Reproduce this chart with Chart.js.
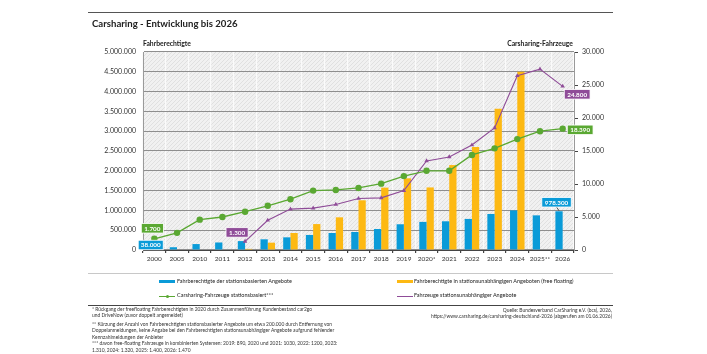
<!DOCTYPE html>
<html>
<head>
<meta charset="utf-8">
<script src="https://cdn.jsdelivr.net/npm/chart.js@4.4.1/dist/chart.umd.min.js"></script>
<style>
  body { margin: 0; background: #fff; font-family: Lato, sans-serif; color: #222; }
  #wrap { position: relative; width: 707px; height: 354px; overflow: hidden; }
  #chart { position: absolute; left: 0; top: 0; }
  .t { position: absolute; white-space: nowrap; line-height: 1; transform: translateY(-50%); }
  .hr { position: absolute; left: 88px; width: 525px; }
  .fn { position: absolute; left: 92px; font-size: 4.9px; line-height: 1; white-space: nowrap; color: #333; transform: translateY(-50%); }
  .src { position: absolute; right: 95px; font-size: 4.9px; line-height: 1; white-space: nowrap; color: #333; text-align: right; transform: translateY(-50%); }
  .lg { position: absolute; font-size: 5.5px; line-height: 1; white-space: nowrap; transform: translateY(-50%); }
  .sw { position: absolute; }
</style>
</head>
<body>
<div id="wrap">
  <canvas id="chart" width="707" height="354"></canvas>

  <div class="hr" style="top:12px;border-top:1.5px solid #555"></div>
  <div class="t" style="left:92px;top:23.5px;font-size:9.6px;font-weight:700">Carsharing - Entwicklung bis 2026</div>
  <div class="t" style="left:143px;top:43px;font-size:6.8px;font-weight:700">Fahrberechtigte</div>
  <div class="t" style="right:134px;top:43px;font-size:6.8px;font-weight:700">Carsharing-Fahrzeuge</div>

  <div class="hr" style="top:272.5px;border-top:1px solid #c8c8c8"></div>
  <div class="sw" style="left:159px;top:279.5px;width:16px;height:3.5px;background:#0a9bd8"></div>
  <div class="lg" style="left:177px;top:281.5px">Fahrberechtigte der stationsbasierten Angebote</div>
  <div class="sw" style="left:397px;top:279.5px;width:16px;height:3.5px;background:#fdb913"></div>
  <div class="lg" style="left:414px;top:281.5px">Fahrberechtigte in stationsunabhängigen Angeboten (free floating)</div>
  <div class="sw" style="left:159px;top:295.5px;width:16px;height:1.2px;background:#5aa832"></div>
  <div class="sw" style="left:165.5px;top:294.6px;width:3px;height:3px;border-radius:50%;background:#5aa832"></div>
  <div class="lg" style="left:177px;top:296px">Carsharing-Fahrzeuge stationsbasiert***</div>
  <div class="sw" style="left:397px;top:295.5px;width:16px;height:1.1px;background:#8f4c98"></div>
  <div class="lg" style="left:414px;top:296px">Fahrzeuge stationsunabhängiger Angebote</div>

  <div class="hr" style="top:304.5px;border-top:1.5px solid #444"></div>
  <div class="fn" style="top:308.5px">* Rückgang der freefloating Fahrberechtigten in 2020 durch Zusammenführung Kundenbestand car2go</div>
  <div class="fn" style="top:315.2px">und DriveNow (zuvor doppelt angemeldet)</div>
  <div class="fn" style="top:323.6px">** Kürzung der Anzahl von Fahrberechtigten stationsbasierter Angebote um etwa 200.000 durch Entfernung von</div>
  <div class="fn" style="top:330.2px">Doppelanmeldungen, keine Angabe bei den Fahrberechtigten stationsunabhängiger Angebote aufgrund fehlender</div>
  <div class="fn" style="top:336.8px">Kennzahlmeldungen der Anbieter</div>
  <div class="fn" style="top:343.4px">*** davon free-floating Fahrzeuge in kombinierten Systemen: 2019: 890, 2020 und 2021: 1030, 2022: 1200, 2023:</div>
  <div class="fn" style="top:350px">1.310, 2024: 1.320, 2025: 1.400, 2026: 1.470</div>
  <div class="src" style="top:309.5px">Quelle: Bundesverband CarSharing e.V. (bcs), 2026,</div>
  <div class="src" style="top:315.5px">https://www.carsharing.de/carsharing-deutschland-2026 (abgerufen am 01.06.2026)</div>
</div>

<script>
// Jahre (x-Achse)
const years = ['2000', '2005', '2010', '2011', '2012', '2013', '2014', '2015', '2016', '2017',
  '2018', '2019', '2020*', '2021', '2022', '2023', '2024', '2025**', '2026'];

// Fahrberechtigte (linke Achse)
const usersStation = [38000, 70000, 150000, 190000, 225000, 270000, 320000, 380000, 430000, 455000,
  530000, 650000, 710000, 725000, 785000, 910000, 1000000, 875000, 978300];
const usersFree = [null, null, null, null, 28000, 185000, 430000, 655000, 825000, 1255000,
  1575000, 1810000, 1580000, 2145000, 2600000, 3570000, 4500000, null, null];

// Fahrzeuge (rechte Achse)
const carsStation = [1700, 2600, 4600, 5000, 5800, 6700, 7700, 9000, 9100, 9400,
  10050, 11200, 12000, 12000, 14400, 15400, 16800, 18000, 18390];
const carsFree = [null, null, null, null, 1300, 4500, 6200, 6350, 6900, 7800,
  7900, 9000, 13500, 14100, 15900, 18500, 26400, 27400, 24800];

const leftTicks = { max: 5000000, step: 500000 };
const rightTicks = { max: 30000, step: 5000 };

const BLUE = '#0a9bd8', YELLOW = '#fdb913', GREEN = '#5aa832', PURPLE = '#8f4c98';

const fmt = v => String(v).replace(/\B(?=(\d{3})+(?!\d))/g, '.');

// value boxes: dataset, index, offset of the box centre from the mark
const callouts = [
  { ds: 2, i: 0, dx: -2, dy: -10.5, color: GREEN },
  { ds: 0, i: 0, dx: 0, dy: -4, color: BLUE, w: 25 },
  { ds: 3, i: 4, dx: -8, dy: -9, color: PURPLE },
  { ds: 3, i: 18, dx: 14.5, dy: 8, color: PURPLE },
  { ds: 2, i: 18, dx: 17.5, dy: 1.2, color: GREEN },
  { ds: 0, i: 18, dx: -2.5, dy: -9, color: BLUE, pointer: true }
];

function hatch() {
  const c = document.createElement('canvas');
  c.width = 4; c.height = 4;
  const g = c.getContext('2d');
  g.fillStyle = '#f1f1f1';
  g.fillRect(0, 0, 4, 4);
  g.strokeStyle = '#dcdcdc';
  g.lineWidth = 0.8;
  g.beginPath();
  g.moveTo(0, 4); g.lineTo(4, 0);
  g.moveTo(-1, 1); g.lineTo(1, -1);
  g.moveTo(3, 5); g.lineTo(5, 3);
  g.stroke();
  return g.createPattern(c, 'repeat');
}

const bgPlugin = {
  id: 'bg',
  beforeDraw(chart) {
    const { ctx, chartArea: a } = chart;
    ctx.save();
    ctx.fillStyle = hatch();
    ctx.fillRect(a.left, a.top, a.right - a.left, a.bottom - a.top);
    ctx.restore();
  }
};

const labelPlugin = {
  id: 'callouts',
  afterDatasetsDraw(chart) {
    const ctx = chart.ctx;
    ctx.save();
    ctx.font = '700 6.3px Lato';
    ctx.textAlign = 'center';
    ctx.textBaseline = 'middle';
    callouts.forEach(c => {
      const el = chart.getDatasetMeta(c.ds).data[c.i];
      const val = chart.data.datasets[c.ds].data[c.i];
      const txt = fmt(val);
      const w = c.w || ctx.measureText(txt).width + 6;
      const h = 9.5;
      let cx = el.x + c.dx, cy = el.y + c.dy;
      if (c.ds === 0 && c.i === 0) cy = chart.chartArea.bottom - 5;
      if (c.pointer) {
        ctx.strokeStyle = '#333';
        ctx.lineWidth = 0.8;
        ctx.beginPath();
        ctx.moveTo(cx, cy + h / 2);
        ctx.lineTo(el.x, el.y - 0.5);
        ctx.stroke();
      }
      ctx.fillStyle = c.color;
      ctx.strokeStyle = '#ffffff';
      ctx.lineWidth = 0.8;
      ctx.fillRect(cx - w / 2, cy - h / 2, w, h);
      ctx.strokeRect(cx - w / 2, cy - h / 2, w, h);
      ctx.fillStyle = '#ffffff';
      ctx.fillText(txt, cx, cy + 0.3);
    });
    ctx.restore();
  }
};

new Chart(document.getElementById('chart'), {
  type: 'bar',
  data: {
    labels: years,
    datasets: [
      { label: 'Fahrberechtigte der stationsbasierten Angebote', data: usersStation, backgroundColor: BLUE, yAxisID: 'y', order: 2 },
      { label: 'Fahrberechtigte in stationsunabhängigen Angeboten (free floating)', data: usersFree, backgroundColor: YELLOW, yAxisID: 'y', order: 2 },
      { type: 'line', label: 'Carsharing-Fahrzeuge stationsbasiert***', data: carsStation, borderColor: GREEN, backgroundColor: GREEN,
        borderWidth: 1.3, pointRadius: 3.2, pointStyle: 'circle', pointBorderWidth: 0, yAxisID: 'y1', order: 1 },
      { type: 'line', label: 'Fahrzeuge stationsunabhängiger Angebote', data: carsFree, borderColor: PURPLE, backgroundColor: PURPLE,
        borderWidth: 1.1, pointRadius: 2.6, pointStyle: 'triangle', pointBorderWidth: 0, yAxisID: 'y1', order: 1 }
    ]
  },
  options: {
    responsive: false,
    animation: false,
    devicePixelRatio: 1,
    categoryPercentage: 0.64,
    barPercentage: 1,
    layout: { padding: { left: 0, right: 0, top: 52, bottom: 86 } },
    plugins: { legend: { display: false }, tooltip: { enabled: false } },
    scales: {
      x: {
        offset: true,
        grid: { offset: true, color: '#fbfbfb', lineWidth: 1.2, tickColor: '#444', tickLength: 3 },
        border: { color: '#444', width: 1 },
        ticks: { color: '#333', font: { family: 'Lato', size: 6.5 }, padding: 2, maxRotation: 0, autoSkip: false },
        afterFit: s => { s.height = 18; }
      },
      y: {
        position: 'left',
        min: 0, max: leftTicks.max,
        ticks: { stepSize: leftTicks.step, color: '#333', font: { family: 'Lato', size: 7 }, padding: 7, callback: v => fmt(v) },
        grid: { color: '#8e8e8e', lineWidth: 1.1, drawTicks: false },
        border: { color: '#9a9a9a' },
        afterFit: s => { s.width = 143; }
      },
      y1: {
        position: 'right',
        min: 0, max: rightTicks.max,
        ticks: { stepSize: rightTicks.step, color: '#333', font: { family: 'Lato', size: 7 }, padding: 4, callback: v => fmt(v) },
        grid: { drawOnChartArea: false, tickColor: '#444', tickLength: 4 },
        border: { color: '#9a9a9a' },
        afterFit: s => { s.width = 133; }
      }
    }
  },
  plugins: [bgPlugin, labelPlugin]
});
</script>
</body>
</html>
